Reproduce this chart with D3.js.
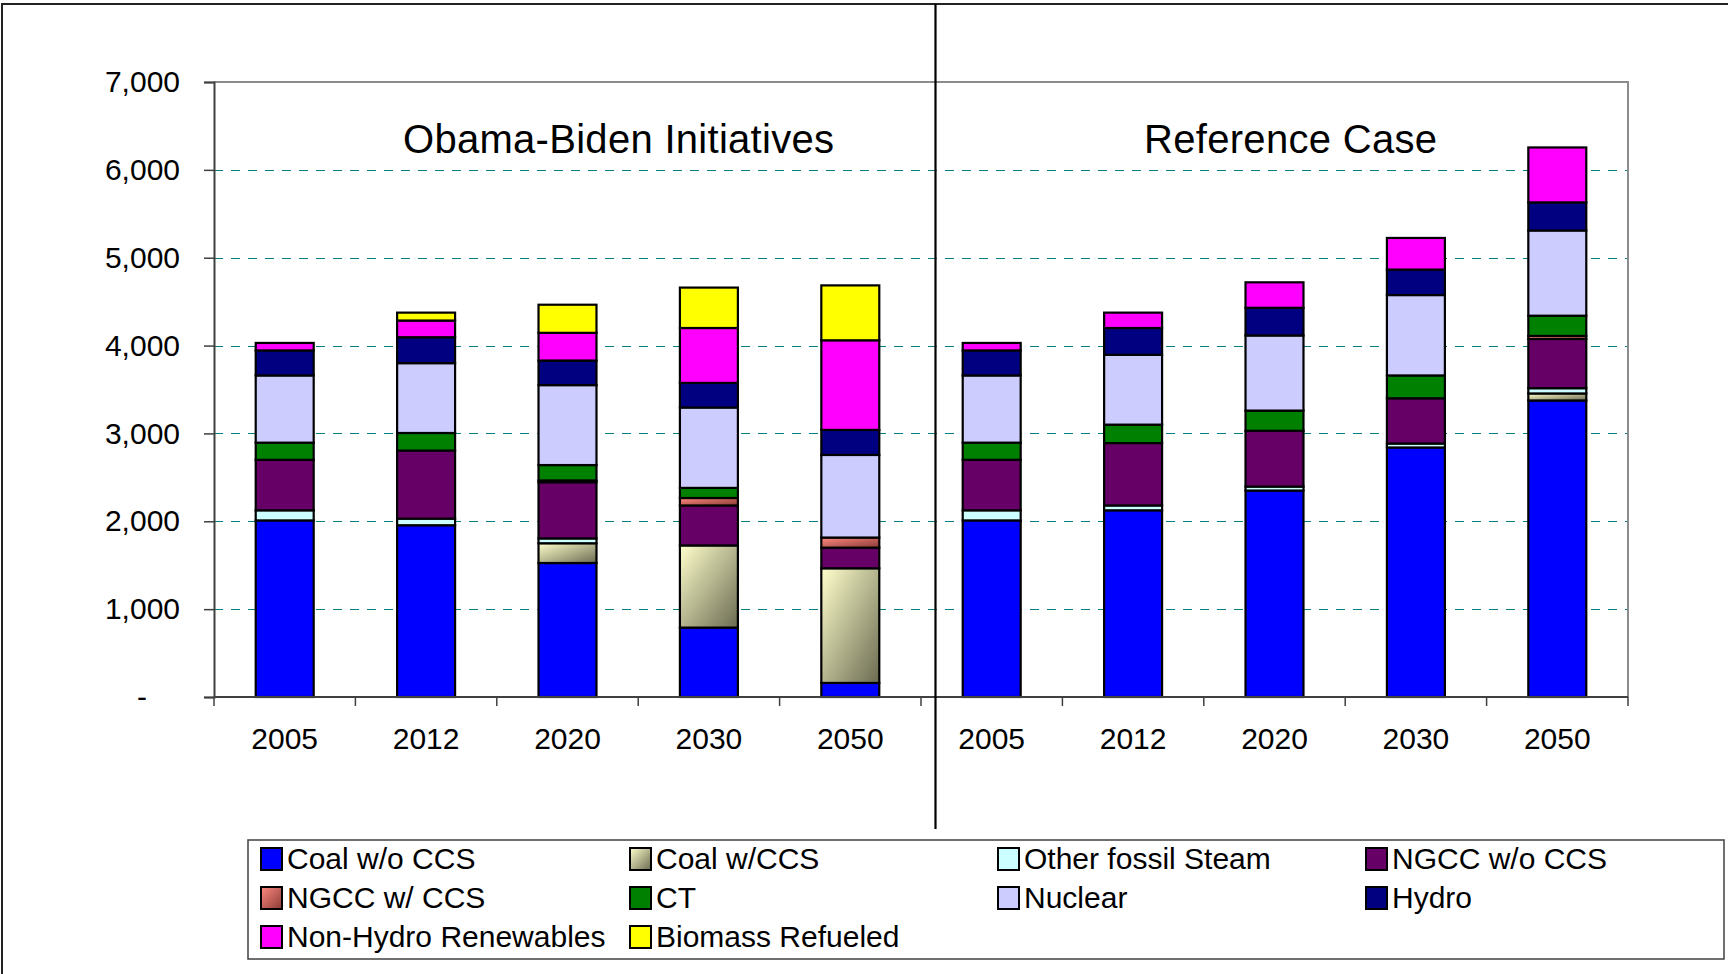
<!DOCTYPE html>
<html>
<head>
<meta charset="utf-8">
<script src="https://cdn.jsdelivr.net/npm/d3@7"></script>
<style>
  html, body { margin: 0; padding: 0; background: #fff; }
  svg { display: block; font-family: "Liberation Sans", Arial, sans-serif; }
</style>
</head>
<body>
<svg id="chart" width="1728" height="974"></svg>
<script>
// Generation by fuel type, two scenarios, five snapshot years each
const years = ["2005", "2012", "2020", "2030", "2050"];
const columns = years.concat(years);           // Obama-Biden block, then Reference block
const caseTitles = ["Obama-Biden Initiatives", "Reference Case"];
const yTicks = [0, 1000, 2000, 3000, 4000, 5000, 6000, 7000];

const seriesNames = [
  "Coal w/o CCS", "Coal w/CCS", "Other fossil Steam", "NGCC w/o CCS", "NGCC w/ CCS",
  "CT", "Nuclear", "Hydro", "Non-Hydro Renewables", "Biomass Refueled"
];

//                    ---- Obama-Biden ----------------   ---- Reference ------------------
const coalNoCCS   = [2010, 1955, 1525,  790,  160,   2010, 2125, 2350, 2840, 3375];
const coalCCS     = [   0,    0,  225,  935, 1305,      0,    0,    0,    0,   80];
const otherFossil = [ 115,   75,   55,    0,    0,    115,   55,   45,   45,   60];
const ngccNoCCS   = [ 575,  775,  640,  455,  235,    575,  710,  635,  515,  560];
const ngccCCS     = [   0,    0,   20,   85,  115,      0,    0,    0,    0,   35];
const ct          = [ 195,  200,  175,  115,    0,    195,  210,  230,  260,  230];
const nuclear     = [ 765,  795,  910,  915,  940,    765,  795,  855,  915,  970];
const hydro       = [ 285,  295,  280,  280,  285,    285,  305,  315,  290,  320];
const renewables  = [  85,  190,  315,  625, 1020,     85,  175,  290,  360,  625];
const biomass     = [   0,   90,  320,  460,  625,      0,    0,    0,    0,    0];

const seriesValues = [coalNoCCS, coalCCS, otherFossil, ngccNoCCS, ngccCCS,
                      ct, nuclear, hydro, renewables, biomass];

const seriesFills = ["#0000ff", "url(#gradCoalCCS)", "#ccffff", "#660066", "url(#gradNgccCCS)",
                     "#008000", "#ccccff", "#000080", "#ff00ff", "#ffff00"];

// table for d3.stack: one row per column
const rows = columns.map((c, i) => {
  const r = { idx: i };
  seriesNames.forEach((n, s) => { r[n] = seriesValues[s][i]; });
  return r;
});

const svg = d3.select("#chart");
const defs = svg.append("defs");

function diagGradient(id, from, to) {
  const g = defs.append("linearGradient").attr("id", id)
    .attr("x1", 0).attr("y1", 0).attr("x2", 1).attr("y2", 1);
  g.append("stop").attr("offset", "0%").attr("stop-color", from);
  g.append("stop").attr("offset", "100%").attr("stop-color", to);
}
diagGradient("gradCoalCCS", "#ffffcc", "#6b6b52");
diagGradient("gradNgccCCS", "#ff8a80", "#8a3a36");

// outer frame (left and top edges visible)
svg.append("rect").attr("x", 2).attr("y", 4).attr("width", 1800).attr("height", 1000)
  .attr("fill", "none").attr("stroke", "#222").attr("stroke-width", 2);

const plot = { left: 214, right: 1628, top: 82, bottom: 697 };

const x = d3.scaleBand()
  .domain(d3.range(columns.length))
  .range([plot.left, plot.right])
  .paddingInner(0.59)
  .paddingOuter(0.295);

const y = d3.scaleLinear()
  .domain([0, 7000])
  .range([plot.bottom, plot.top]);

// dashed gridlines
svg.append("g").selectAll("line")
  .data(yTicks.filter(t => t > 0 && t < 7000))
  .join("line")
  .attr("x1", plot.left).attr("x2", plot.right)
  .attr("y1", d => Math.round(y(d)) + 0.5).attr("y2", d => Math.round(y(d)) + 0.5)
  .attr("stroke", "#008080").attr("stroke-width", 1.2)
  .attr("stroke-dasharray", "9,8");

// plot area top / right edges
svg.append("path")
  .attr("d", `M${plot.left},${y(7000)}H${plot.right}V${plot.bottom}`)
  .attr("fill", "none").attr("stroke", "#8c8c8c").attr("stroke-width", 2);

// stacked bars
const stack = d3.stack().keys(seriesNames);
const layers = stack(rows);

const barG = svg.append("g");
layers.forEach((layer, s) => {
  barG.append("g")
    .selectAll("rect")
    .data(layer.filter(d => d[1] - d[0] > 0))
    .join("rect")
    .attr("x", d => x(d.data.idx))
    .attr("width", x.bandwidth())
    .attr("y", d => y(d[1]))
    .attr("height", d => y(d[0]) - y(d[1]))
    .attr("fill", seriesFills[s])
    .attr("stroke", "#000")
    .attr("stroke-width", 2.2);
});

// y axis
const yAxis = d3.axisLeft(y)
  .tickValues(yTicks)
  .tickSize(10)
  .tickPadding(24)
  .tickFormat(d => d === 0 ? "-" : d3.format(",")(d));

const yg = svg.append("g")
  .attr("transform", `translate(${plot.left},0)`)
  .call(yAxis);
yg.select(".domain").attr("stroke", "#404040").attr("stroke-width", 2);
yg.selectAll(".tick line").attr("stroke", "#404040").attr("stroke-width", 1.5);
yg.selectAll(".tick text")
  .attr("font-size", 30)
  .attr("font-family", "'Liberation Sans', Arial, sans-serif")
  .attr("fill", "#000");
yg.selectAll(".tick").filter(d => d === 0).select("text").attr("x", -67);

// x axis: ticks on band boundaries, labels at band centres
const xg = svg.append("g");
xg.append("line")
  .attr("x1", plot.left).attr("x2", plot.right)
  .attr("y1", plot.bottom).attr("y2", plot.bottom)
  .attr("stroke", "#404040").attr("stroke-width", 2);
const boundaries = d3.range(columns.length + 1).map(i => plot.left + i * x.step());
xg.selectAll("line.tk")
  .data(boundaries)
  .join("line").attr("class", "tk")
  .attr("x1", d => d).attr("x2", d => d)
  .attr("y1", plot.bottom).attr("y2", plot.bottom + 9)
  .attr("stroke", "#404040").attr("stroke-width", 1.5);
xg.selectAll("text")
  .data(columns)
  .join("text")
  .attr("x", (d, i) => x(i) + x.bandwidth() / 2)
  .attr("y", 749)
  .attr("text-anchor", "middle")
  .attr("font-size", 30)
  .attr("fill", "#000")
  .text(d => d);

// scenario divider
svg.append("line")
  .attr("x1", 935.5).attr("x2", 935.5)
  .attr("y1", 4).attr("y2", 829)
  .attr("stroke", "#000").attr("stroke-width", 2.2);

// scenario titles
const titlePos = [
  { cx: 618.5, w: 431 },
  { cx: 1290.5, w: 293 }
];
svg.append("g").selectAll("text")
  .data(caseTitles)
  .join("text")
  .attr("x", (d, i) => titlePos[i].cx)
  .attr("y", 153)
  .attr("text-anchor", "middle")
  .attr("font-size", 40)
  .attr("textLength", (d, i) => titlePos[i].w)
  .attr("lengthAdjust", "spacing")
  .attr("fill", "#000")
  .text(d => d);

// legend
const legend = svg.append("g");
legend.append("rect")
  .attr("x", 248).attr("y", 840).attr("width", 1476).attr("height", 119)
  .attr("fill", "#fff").attr("stroke", "#404040").attr("stroke-width", 1.5);

const legendCols = [261, 630, 998, 1366];
const legendRowBase = [869, 908, 947];
const items = legend.selectAll("g.item")
  .data(seriesNames)
  .join("g").attr("class", "item")
  .attr("transform", (d, i) =>
    `translate(${legendCols[i % 4]},${legendRowBase[Math.floor(i / 4)]})`);
items.append("rect")
  .attr("x", 0).attr("y", -21).attr("width", 21).attr("height", 22)
  .attr("fill", (d, i) => seriesFills[i])
  .attr("stroke", "#000").attr("stroke-width", 2);
items.append("text")
  .attr("x", 26).attr("y", 0)
  .attr("font-size", 30)
  .attr("fill", "#000")
  .text(d => d);
</script>
</body>
</html>
